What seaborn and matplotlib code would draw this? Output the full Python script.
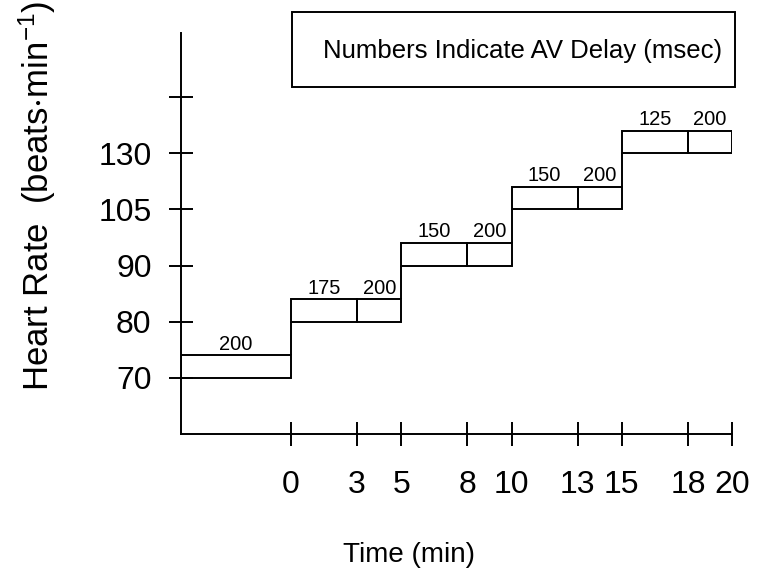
import matplotlib
matplotlib.use("Agg")
import matplotlib.pyplot as plt
import seaborn as sns
import pandas as pd
from matplotlib.patches import Rectangle

# Pacing protocol: heart-rate stages and the AV delay used in each segment
heart_rates = [70, 80, 90, 105, 130]
seg_start = [-5, 0, 3, 5, 8, 10, 13, 15, 18]
seg_end = [0, 3, 5, 8, 10, 13, 15, 18, 20]
seg_rate = [70, 80, 80, 90, 90, 105, 105, 130, 130]
seg_delay = [200, 175, 200, 150, 200, 150, 200, 125, 200]
time_ticks = [0, 3, 5, 8, 10, 13, 15, 18, 20]

sns.set_theme(style="ticks")
plt.rcParams["font.family"] = ["Liberation Sans", "DejaVu Sans"]
plt.rcParams["mathtext.default"] = "regular"

df = pd.DataFrame({"start": seg_start, "end": seg_end,
                   "rate": seg_rate, "delay": seg_delay})
df["level"] = df["rate"].map({r: i for i, r in enumerate(heart_rates)})
df["width"] = df["end"] - df["start"]

LW = 1.4
BOX_H = 0.4

fig = plt.figure(figsize=(7.6, 5.73), dpi=100)
ax = fig.add_axes([0.2378, 0.2422, 0.7254, 0.6997])

# one open box per segment, stacked as a staircase
ax.bar(df["start"], BOX_H, width=df["width"], bottom=df["level"],
       align="edge", fill=False, edgecolor="black", linewidth=LW)

# risers joining consecutive heart-rate stages
for i in range(1, len(df)):
    prev, cur = df.iloc[i - 1], df.iloc[i]
    if cur["level"] != prev["level"]:
        ax.vlines(cur["start"], prev["level"] + BOX_H, cur["level"],
                  color="black", linewidth=LW)

# AV delay above each segment
for _, row in df.iterrows():
    ax.text((row["start"] + row["end"]) / 2, row["level"] + BOX_H + 0.1,
            str(row["delay"]), ha="center", va="baseline", fontsize=14.5,
            color="black")

ax.set_xlim(-5, 20)
ax.set_ylim(-1, 6.13)
ax.set_xticks(time_ticks)
ax.set_xticklabels([str(t) for t in time_ticks])
ax.set_yticks(range(len(heart_rates) + 1))
ax.set_yticklabels([str(r) for r in heart_rates] + [""])
ax.tick_params(direction="inout", length=17, width=LW, labelsize=23,
               colors="black")
ax.tick_params(axis="x", pad=17)
ax.tick_params(axis="y", pad=12.5)
sns.despine(ax=ax)
for side in ("left", "bottom"):
    ax.spines[side].set_linewidth(LW)
    ax.spines[side].set_color("black")

# key box
fig.patches.append(Rectangle((292 / 760, 1 - 87 / 573), 443 / 760, 75 / 573,
                             transform=fig.transFigure, fill=False,
                             edgecolor="black", linewidth=LW))
fig.text(523 / 760, 1 - 58.3 / 573, "Numbers Indicate AV Delay (msec)",
         ha="center", va="baseline", fontsize=18.5, color="black")

fig.text(37.5 / 760, 1 - 196 / 573,
         r"Heart Rate  (beats$\cdot$min$^{-1}$)", rotation=90,
         ha="center", va="center", fontsize=25, color="black")
fig.text(409 / 760, 1 - 562 / 573, "Time (min)", ha="center",
         va="baseline", fontsize=20, color="black")

fig.savefig("out.png", dpi=100)
